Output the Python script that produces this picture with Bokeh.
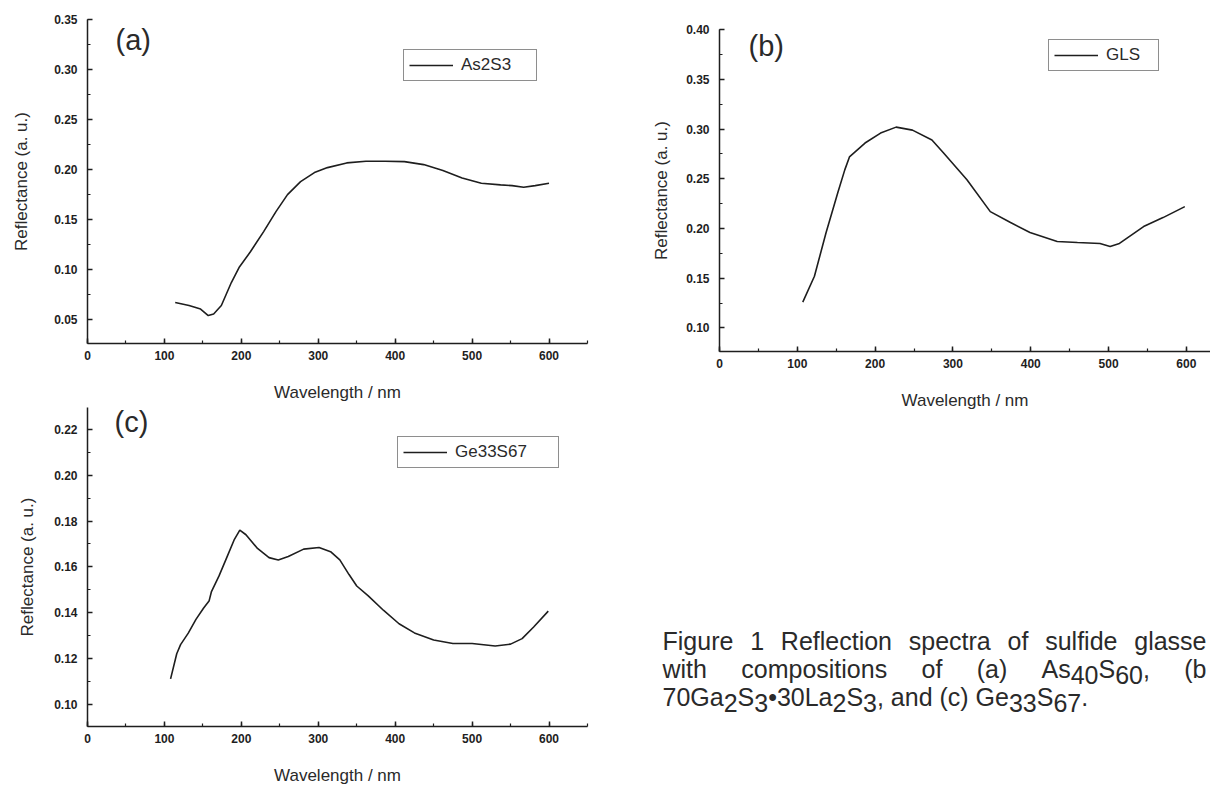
from bokeh.plotting import figure
from bokeh.models import (Range1d, SingleIntervalTicker, NumeralTickFormatter,
                          Legend, LegendItem, Label)
from bokeh.layouts import row, column
from bokeh.embed import file_html
from bokeh.resources import INLINE

# ---------------- data ----------------
wl_a = [114, 132, 147, 157, 164, 174, 187, 197, 212, 229, 245, 260, 277, 295, 312, 337,
        362, 387, 412, 437, 462, 487, 512, 537, 552, 567, 582, 600]
r_a = [0.067, 0.064, 0.0605, 0.054, 0.0556, 0.064, 0.087, 0.102, 0.118, 0.138, 0.158,
       0.175, 0.188, 0.197, 0.202, 0.2067, 0.2083, 0.2083, 0.208, 0.205, 0.199, 0.1917,
       0.1863, 0.1847, 0.184, 0.1823, 0.184, 0.1863]

wl_b = [107, 122, 137, 152, 161, 167, 187, 207, 227, 248, 273, 288, 318, 348, 374, 399,
        434, 460, 489, 502, 514, 545, 570, 598]
r_b = [0.126, 0.152, 0.196, 0.236, 0.259, 0.272, 0.286, 0.296, 0.302, 0.299, 0.289,
       0.276, 0.249, 0.217, 0.206, 0.196, 0.187, 0.186, 0.185, 0.182, 0.185, 0.202,
       0.211, 0.222]

wl_c = [108, 116, 121, 131, 141, 151, 158, 161, 171, 181, 191, 198, 206, 221, 236, 248,
        261, 281, 301, 316, 328, 340, 350, 365, 385, 405, 425, 450, 475, 500, 530, 550,
        565, 580, 599]
r_c = [0.111, 0.122, 0.126, 0.131, 0.137, 0.142, 0.145, 0.149, 0.156, 0.164, 0.172,
       0.176, 0.174, 0.168, 0.164, 0.163, 0.1645, 0.1677, 0.1684, 0.1666, 0.163, 0.1566,
       0.1516, 0.1473, 0.1409, 0.1351, 0.1311, 0.128, 0.1265, 0.1265, 0.1254, 0.1262,
       0.1286, 0.1337, 0.1406]

series_names = ["As2S3", "GLS", "Ge33S67"]
panel_tags = ["(a)", "(b)", "(c)"]
x_title = "Wavelength / nm"
y_title = "Reflectance (a. u.)"
x_tick_step = 100
y_tick_steps = [0.05, 0.05, 0.02]

INK = "#1e1e1e"
TXT = "#2a2a2a"
FONT = "Liberation Sans"


def panel(width, height, xr, yr, ystep, borders, ylab_standoff, tag, tag_xy,
          name, leg_loc, leg_label_width, xs, ys):
    p = figure(width=width, height=height, x_range=Range1d(*xr), y_range=Range1d(*yr),
               output_backend="svg", toolbar_location=None, tools="")
    p.frame_align = False
    left, right, top, bottom = borders
    p.min_border_left = left
    p.min_border_right = right
    p.min_border_top = top
    p.min_border_bottom = bottom
    p.outline_line_color = None
    p.xgrid.visible = False
    p.ygrid.visible = False
    p.background_fill_color = "white"
    p.border_fill_color = "white"

    p.xaxis.ticker = SingleIntervalTicker(interval=x_tick_step, num_minor_ticks=2)
    p.yaxis.ticker = SingleIntervalTicker(interval=ystep, num_minor_ticks=2)
    p.yaxis.formatter = NumeralTickFormatter(format="0.00")
    for ax in (p.xaxis[0], p.yaxis[0]):
        ax.axis_line_color = INK
        ax.axis_line_width = 1.5
        ax.major_tick_in = 5
        ax.major_tick_out = 0
        ax.minor_tick_in = 3
        ax.minor_tick_out = 0
        ax.major_tick_line_color = INK
        ax.major_tick_line_width = 1.5
        ax.minor_tick_line_color = INK
        ax.minor_tick_line_width = 1.2
        ax.major_label_text_font = FONT
        ax.major_label_text_font_size = "12px"
        ax.major_label_text_font_style = "bold"
        ax.major_label_text_color = INK
        ax.axis_label_text_font = FONT
        ax.axis_label_text_font_size = "17px"
        ax.axis_label_text_font_style = "normal"
        ax.axis_label_text_color = TXT
    p.xaxis.axis_label = x_title
    p.yaxis.axis_label = y_title
    p.xaxis.major_label_standoff = 7
    p.yaxis.major_label_standoff = 10
    p.xaxis.axis_label_standoff = 20
    p.yaxis.axis_label_standoff = ylab_standoff

    r = p.line(xs, ys, line_color=INK, line_width=1.6)
    leg = Legend(items=[LegendItem(label=name, renderers=[r])], location=leg_loc,
                 border_line_color=INK, border_line_width=1.3,
                 background_fill_color="white", background_fill_alpha=1.0,
                 padding=5, margin=0, spacing=0,
                 glyph_width=44, glyph_height=18, label_height=18,
                 label_width=leg_label_width, label_standoff=8,
                 label_text_font=FONT, label_text_font_size="17px",
                 label_text_color=TXT)
    p.add_layout(leg)
    p.add_layout(Label(x=tag_xy[0], y=tag_xy[1], x_units="screen", y_units="screen",
                       text=tag, text_font=FONT, text_font_size="29px",
                       text_baseline="middle", text_color=TXT))
    return p


pa = panel(600, 406, (0, 650), (0.026, 0.3502), y_tick_steps[0], (87, 13, 19, 63), 20,
           panel_tags[0], (28, 304), series_names[0], (316, 262), 70, wl_a, r_a)
pb = panel(610, 412, (0, 631), (0.0763, 0.4002), y_tick_steps[1], (119, 0, 29, 59), 12,
           panel_tags[1], (29, 306), series_names[1], (329, 280), 47, wl_b, r_b)
pc = panel(600, 381, (0, 650), (0.0902, 0.2296), y_tick_steps[2], (87, 13, 1, 56), 14,
           panel_tags[2], (27, 305), series_names[2], (310, 258), 98, wl_c, r_c)

# ---------------- caption ----------------
AW = {'F': 611, 'R': 722, 'A': 667, 'S': 667, 'G': 778, 'L': 556,
      'a': 556, 'b': 556, 'c': 500, 'd': 556, 'e': 556, 'f': 278, 'g': 556, 'h': 556,
      'i': 222, 'l': 222, 'm': 833, 'n': 556, 'o': 556, 'p': 556, 'r': 333, 's': 500,
      't': 278, 'u': 556, 'w': 722, ' ': 278, '(': 333, ')': 333, ',': 278, '.': 278,
      '•': 350}
for d_ in "0123456789":
    AW[d_] = 556

CAP_SIZE = 25
SUB_DROP = 6


def tw(s):
    return sum(AW.get(ch, 556) for ch in s) / 1000.0 * CAP_SIZE


line1 = [[("Figure", 0)], [("1", 0)], [("Reflection", 0)], [("spectra", 0)], [("of", 0)],
         [("sulfide", 0)], [("glasse", 0)]]
line2 = [[("with", 0)], [("compositions", 0)], [("of", 0)], [("(a)", 0)],
         [("As", 0), ("40", 1), ("S", 0), ("60", 1), (",", 0)], [("(b", 0)]]
line3 = [("70Ga", 0), ("2", 1), ("S", 0), ("3", 1), ("•30La", 0), ("2", 1), ("S", 0),
         ("3", 1), (", and (c) Ge", 0), ("33", 1), ("S", 0), ("67", 1), (".", 0)]

pieces = []  # (x, y, text)  in caption-canvas pixels, y measured from the bottom


def justified(groups, x0, x1, base):
    widths = [sum(tw(s) for s, _ in g) for g in groups]
    gap = (x1 - x0 - sum(widths)) / (len(groups) - 1)
    x = x0
    for g, w in zip(groups, widths):
        xx = x
        for s, sub in g:
            pieces.append((xx, base - SUB_DROP * sub, s))
            xx += tw(s)
        x += w + gap


def plain(groups, x0, base):
    x = x0
    for s, sub in groups:
        pieces.append((x, base - SUB_DROP * sub, s))
        x += tw(s)


justified(line1, 62, 606, 147)
justified(line2, 62, 606, 119)
plain(line3, 62, 91)

CAP_W, CAP_H = 610, 375
pd_ = figure(width=CAP_W, height=CAP_H, x_range=Range1d(0, CAP_W),
             y_range=Range1d(0, CAP_H), output_backend="svg", toolbar_location=None,
             tools="", x_axis_location=None, y_axis_location=None)
pd_.frame_align = False
pd_.min_border_left = 0
pd_.min_border_right = 0
pd_.min_border_top = 0
pd_.min_border_bottom = 0
pd_.outline_line_color = None
pd_.xgrid.visible = False
pd_.ygrid.visible = False
for (x, y, s) in pieces:
    pd_.add_layout(Label(x=x, y=y, text=s, text_font=FONT,
                         text_font_size=f"{CAP_SIZE}px", text_color=TXT,
                         text_align="left", text_baseline="alphabetic"))

layout = row(column(pa, pc), column(pb, pd_))
open("out.html", "w").write(file_html(layout, INLINE))
